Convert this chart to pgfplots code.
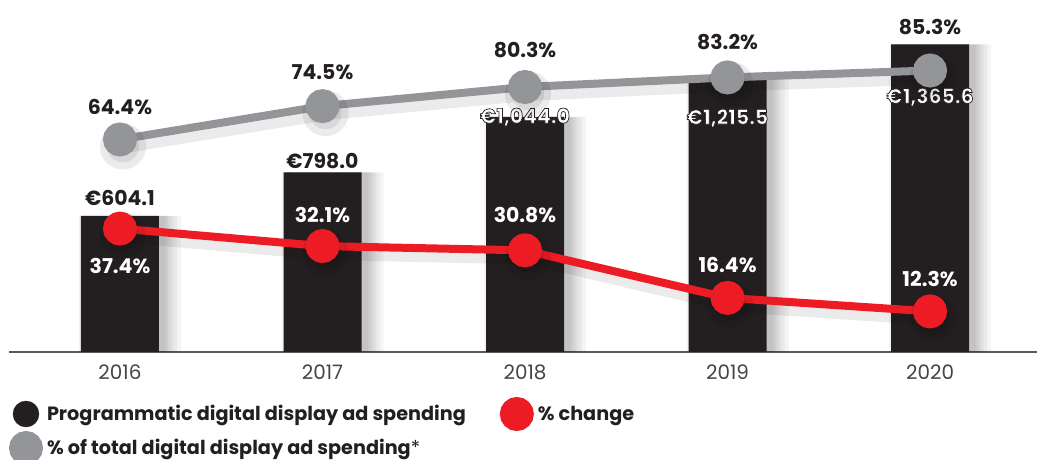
\documentclass[border=0pt]{standalone}
\usepackage{pgfplots}
\pgfplotsset{compat=1.18}
\usepackage{fontspec}
\setmainfont{Poppins}
\definecolor{barblack}{HTML}{231F20}
\definecolor{lgray}{HTML}{939598}
\definecolor{lred}{HTML}{ED1C24}
\definecolor{axisgray}{HTML}{5A5A5A}
\definecolor{tickc}{HTML}{444444}
\newcommand{\lblfont}{\bfseries\fontsize{20.5}{24}\selectfont}
\newcommand{\outl}[1]{\textcolor{white}{\special{pdf:literal direct 2 Tr 0.7 w 0.137 0.122 0.125 RG}#1\special{pdf:literal direct 0 Tr}}}
\pgfplotsset{shadowbar/.style 2 args={ybar, bar width=#1, bar shift=#2, fill=black, fill opacity=0.045, draw=none, forget plot}}
\begin{document}
\begin{tikzpicture}
\useasboundingbox (0,0) rectangle (1037bp,460bp);
\begin{axis}[
  at={(9bp,108bp)}, anchor=south west, scale only axis,
  width=1028bp, height=352bp,
  xmin=-0.548, xmax=4.528, ymin=0, ymax=1563,
  axis x line*=bottom, axis y line=none,
  axis line style={draw=axisgray, line width=1.5bp, -},
  xtick={0,1,2,3,4}, xticklabels={2016,2017,2018,2019,2020},
  major tick length=0pt,
  xticklabel style={font=\fontsize{20}{24}\selectfont, text=tickc, yshift=-9bp},
  clip=false,
]
% soft shadows
\addplot[shadowbar={102bp}{10bp}] coordinates {(0,604.1) (1,798.0) (2,1044.0) (3,1215.5) (4,1365.6)};
\addplot[shadowbar={96bp}{9bp}] coordinates {(0,604.1) (1,798.0) (2,1044.0) (3,1215.5) (4,1365.6)};
\addplot[shadowbar={91bp}{8bp}] coordinates {(0,604.1) (1,798.0) (2,1044.0) (3,1215.5) (4,1365.6)};
\addplot[shadowbar={87bp}{7bp}] coordinates {(0,604.1) (1,798.0) (2,1044.0) (3,1215.5) (4,1365.6)};
\addplot[shadowbar={84bp}{6bp}] coordinates {(0,604.1) (1,798.0) (2,1044.0) (3,1215.5) (4,1365.6)};
\addplot[shadowbar={81bp}{5bp}] coordinates {(0,604.1) (1,798.0) (2,1044.0) (3,1215.5) (4,1365.6)};
\addplot[ybar, bar width=78bp, fill=barblack, draw=none]
  coordinates {(0,604.1) (1,798.0) (2,1044.0) (3,1215.5) (4,1365.6)};
\end{axis}
\begin{axis}[
  at={(9bp,108bp)}, anchor=south west, scale only axis,
  width=1028bp, height=352bp,
  xmin=-0.548, xmax=4.528, ymin=0, ymax=106.667,
  axis lines=none, clip=false,
  legend columns=2, legend cell align=left,
  legend style={at={(axis description cs:0,0)}, anchor=north west,
    yshift=-45bp, draw=none, fill=none, inner sep=0pt, outer sep=0pt,
    font=\bfseries\fontsize{19.3}{23}\selectfont, text=barblack,
    nodes={inner sep=0pt},
    /tikz/every odd column/.append style={column sep=4bp},
    /tikz/every even column/.append style={column sep=34bp},
    row sep=0bp},
]
\addlegendimage{legend image code/.code={\fill[barblack] (13bp,0) circle (13bp);}}
\addlegendentry{Programmatic digital display ad spending}
% line shadows
\addplot[black, opacity=0.08, line width=14bp, mark=*, mark size=16bp, mark options={fill=black, draw=none}, yshift=-7bp, xshift=3bp, forget plot]
  coordinates {(0,37.4) (1,32.1) (2,30.8) (3,16.4) (4,12.3)};
\addplot[black, opacity=0.08, line width=14bp, mark=*, mark size=16bp, mark options={fill=black, draw=none}, yshift=-7bp, xshift=3bp, forget plot]
  coordinates {(0,64.4) (1,74.5) (2,80.3) (3,83.2) (4,85.3)};
\addplot[lred, line width=8bp, mark=*, mark size=13bp, mark options={fill=lred, draw=none},
  legend image code/.code={\fill[lred] (13bp,0) circle (13bp);}]
  coordinates {(0,37.4) (1,32.1) (2,30.8) (3,16.4) (4,12.3)};
\addlegendentry{\% change}
\addplot[lgray, line width=8bp, mark=*, mark size=13bp, mark options={fill=lgray, draw=none},
  legend image code/.code={\fill[lgray] (13bp,0) circle (13bp);}]
  coordinates {(0,64.4) (1,74.5) (2,80.3) (3,83.2) (4,85.3)};
\addlegendentry{\% of total digital display ad spending{\mdseries *}}
% gray series labels
\node[font=\lblfont, text=barblack] at (axis cs:0,74.24) {64.4\%};
\node[font=\lblfont, text=barblack] at (axis cs:1,84.85) {74.5\%};
\node[font=\lblfont, text=barblack] at (axis cs:2,91.52) {80.3\%};
\node[font=\lblfont, text=barblack] at (axis cs:3,93.94) {83.2\%};
\node[font=\lblfont, text=barblack] at (axis cs:4,98.48) {85.3\%};
% bar labels
\node[font=\lblfont, text=barblack] at (axis cs:0,46.67) {€604.1};
\node[font=\lblfont, text=barblack] at (axis cs:1,57.88) {€798.0};
\node[font=\lblfont] at (axis cs:2,71.21) {\outl{€1,044.0}};
\node[font=\lblfont] at (axis cs:3,70.91) {\outl{€1,215.5}};
\node[font=\lblfont] at (axis cs:4,77.27) {\outl{€1,365.6}};
% red series labels
\node[font=\lblfont, text=white] at (axis cs:0,26.06) {37.4\%};
\node[font=\lblfont, text=white] at (axis cs:1,41.52) {32.1\%};
\node[font=\lblfont, text=white] at (axis cs:2,41.52) {30.8\%};
\node[font=\lblfont, text=white] at (axis cs:3,26.36) {16.4\%};
\node[font=\lblfont, text=white] at (axis cs:4,22.12) {12.3\%};
\end{axis}
\end{tikzpicture}
\end{document}
